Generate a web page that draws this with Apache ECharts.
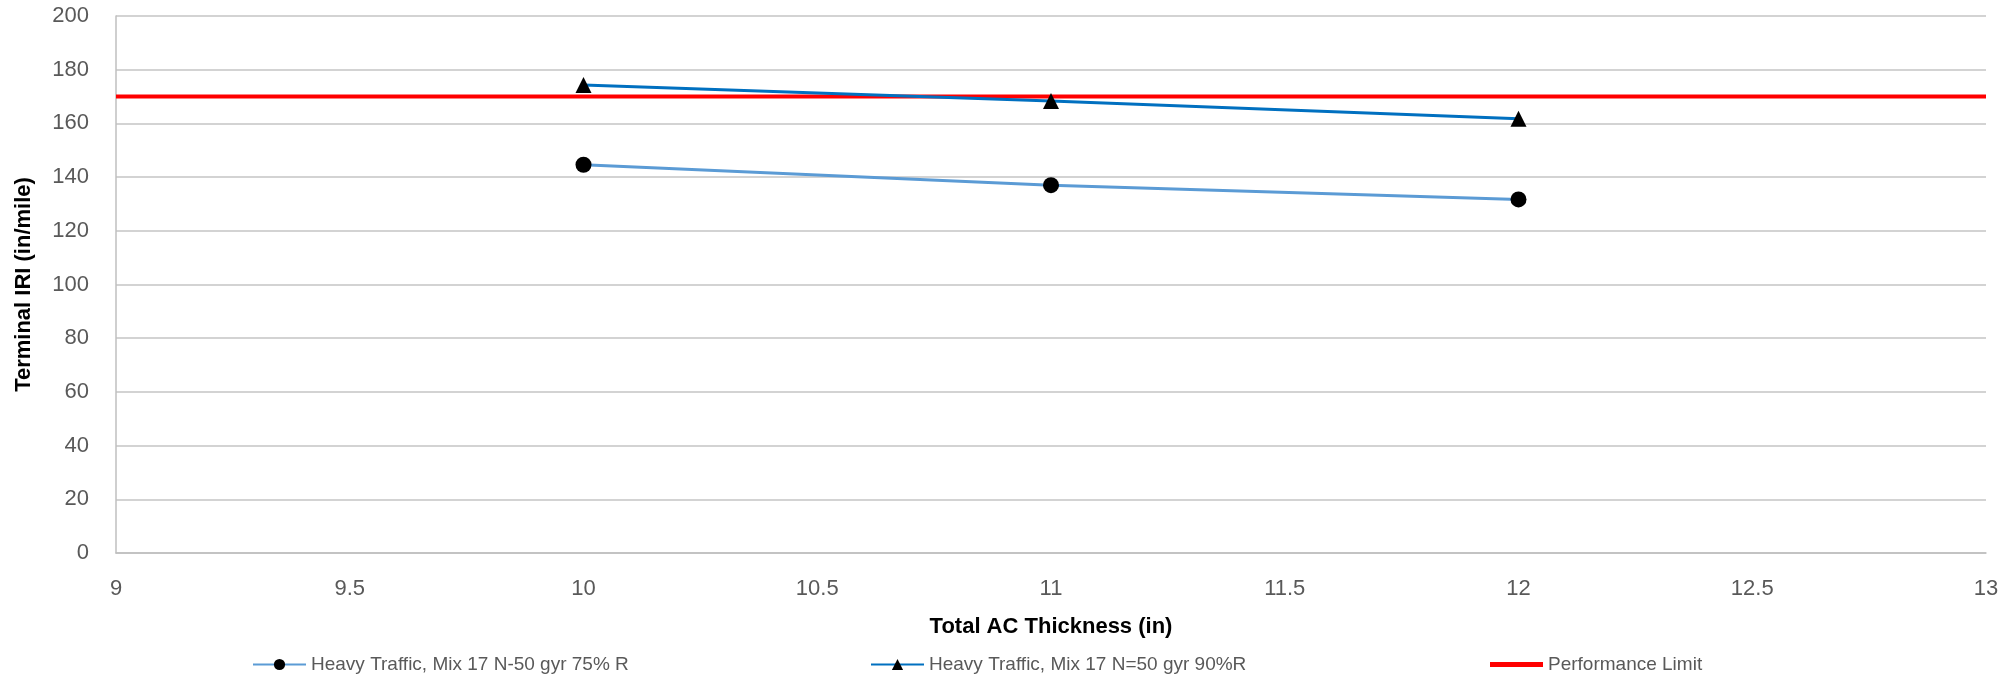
<!DOCTYPE html>
<html>
<head>
<meta charset="utf-8">
<script src="https://cdn.jsdelivr.net/npm/echarts@6/dist/echarts.min.js"></script>
<style>
html,body{margin:0;padding:0;background:#fff;}
#chart{width:2016px;height:676px;}
</style>
</head>
<body>
<div id="chart"></div>
<script>
const thickness = [10, 11, 12];
const mix75 = [144.6, 137.0, 131.7];
const mix90 = [174.3, 168.3, 161.7];
const limitX = [9, 13];
const limitY = [170, 170];
const seriesNames = ['Heavy Traffic, Mix 17 N-50 gyr 75% R', 'Heavy Traffic, Mix 17 N=50 gyr 90%R', 'Performance Limit'];

const FONT = "'Liberation Sans', Arial, sans-serif";
const chart = echarts.init(document.getElementById('chart'));
const pair = (xs, ys) => xs.map((x, i) => [x, ys[i]]);
const legendText = { fontFamily: FONT, fontSize: 19, color: '#595959' };

chart.setOption({
  animation: false,
  backgroundColor: '#ffffff',
  textStyle: { fontFamily: FONT },
  grid: { left: 116, right: 30, top: 16, bottom: 123 },
  xAxis: {
    type: 'value', min: 9, max: 13, interval: 0.5,
    name: 'Total AC Thickness (in)', nameLocation: 'middle', nameGap: 63,
    nameTextStyle: { fontFamily: FONT, fontSize: 22, fontWeight: 'bold', color: '#000' },
    axisLine: { show: true, lineStyle: { color: '#bfbfbf', width: 1.5 } },
    axisTick: { show: false },
    splitLine: { show: false },
    axisLabel: { fontFamily: FONT, fontSize: 22, color: '#595959', margin: 25 }
  },
  yAxis: {
    type: 'value', min: 0, max: 200, interval: 20,
    name: 'Terminal IRI (in/mile)', nameLocation: 'middle', nameGap: 81, nameRotate: 90,
    nameTextStyle: { fontFamily: FONT, fontSize: 22, fontWeight: 'bold', color: '#000' },
    axisLine: { show: true, lineStyle: { color: '#bfbfbf', width: 1.5 } },
    axisTick: { show: false },
    splitLine: { show: true, lineStyle: { color: '#c4c4c4', width: 1.5 } },
    axisLabel: { fontFamily: FONT, fontSize: 22, color: '#595959', margin: 27 }
  },
  legend: [
    { data: [seriesNames[0]], left: 247, top: 650, itemWidth: 53, itemHeight: 14, textStyle: legendText },
    { data: [seriesNames[1]], left: 865, top: 650, itemWidth: 53, itemHeight: 14, textStyle: legendText },
    { data: [{ name: seriesNames[2], icon: 'rect' }], left: 1485, top: 650, itemWidth: 53, itemHeight: 5, textStyle: legendText }
  ],
  series: [
    {
      name: seriesNames[0], type: 'line', data: pair(thickness, mix75),
      symbol: 'circle', symbolSize: 16,
      lineStyle: { color: '#5b9bd5', width: 3 },
      itemStyle: { color: '#000' }, z: 3
    },
    {
      name: seriesNames[1], type: 'line', data: pair(thickness, mix90),
      symbol: 'triangle', symbolSize: 16,
      lineStyle: { color: '#0070c0', width: 3 },
      itemStyle: { color: '#000' }, z: 3
    },
    {
      name: seriesNames[2], type: 'line', data: pair(limitX, limitY),
      symbol: 'none', showSymbol: false,
      lineStyle: { color: '#ff0000', width: 4 },
      itemStyle: { color: '#ff0000' }, z: 2
    }
  ]
});
</script>
</body>
</html>
